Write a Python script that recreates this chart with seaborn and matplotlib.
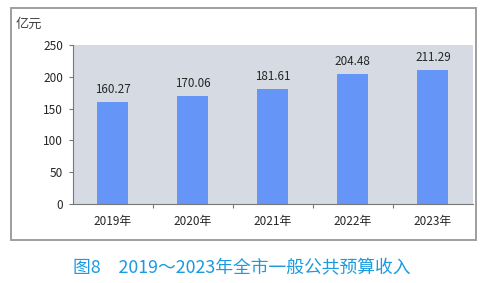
import matplotlib
matplotlib.use("Agg")
import matplotlib.pyplot as plt
import seaborn as sns
import pandas as pd
from matplotlib.patches import Rectangle

years = ["2019年", "2020年", "2021年", "2022年", "2023年"]
values = [160.27, 170.06, 181.61, 204.48, 211.29]
yticks = [0, 50, 100, 150, 200, 250]
unit = "亿元"
caption = "图8　2019～2023年全市一般公共预算收入"

sns.set_theme(style="white")
plt.rcParams['font.family'] = ['Noto Sans CJK SC', 'DejaVu Sans']

df = pd.DataFrame({"year": years, "value": values})

fig = plt.figure(figsize=(4.86, 2.83), dpi=100)
fig.patch.set_facecolor("white")

# outer frame
fig.add_artist(Rectangle((0.0226, 0.152), 0.957, 0.820, transform=fig.transFigure,
                         fill=False, edgecolor="#9E9E9E", linewidth=1.4))

ax = fig.add_axes([0.150, 0.279, 0.823, 0.562])
ax.set_facecolor("#D5DAE3")
sns.barplot(data=df, x="year", y="value", color="#6495F7", width=0.39,
            saturation=1, linewidth=0, ax=ax)

ax.set_ylim(0, 250)
ax.set_xlim(-0.5, 4.5)
ax.set_yticks(yticks)
ax.set_yticklabels([str(t) for t in yticks], fontsize=8.5, color="#262626")
ax.set_xticks(range(len(years)))
ax.set_xticklabels(years, fontsize=8.5, color="#262626")
ax.set_xlabel("")
ax.set_ylabel("")
ax.tick_params(axis="y", which="major", length=3, width=0.8, color="#777777",
               left=True, direction="out", pad=4)
ax.tick_params(axis="x", which="major", length=0, pad=8)
ax.set_xticks([0.5, 1.5, 2.5, 3.5], minor=True)
ax.tick_params(axis="x", which="minor", length=3, width=0.8, color="#777777",
               bottom=True, direction="out")

for s in ["top", "right"]:
    ax.spines[s].set_visible(False)
ax.spines["left"].set_color("#777777")
ax.spines["left"].set_linewidth(0.8)
ax.spines["bottom"].set_color("#777777")
ax.spines["bottom"].set_linewidth(0.8)

for i, v in enumerate(values):
    ax.text(i, v + 9, f"{v:.2f}", ha="center", va="bottom", fontsize=8.4,
            color="#262626")

fig.text(0.033, 0.915, unit, fontsize=9.5, color="#444444", ha="left", va="center")
fig.text(0.498, 0.053, caption, fontsize=12.8, color="#1A9BE0", ha="center", va="center")

fig.savefig("out.png", dpi=100)
